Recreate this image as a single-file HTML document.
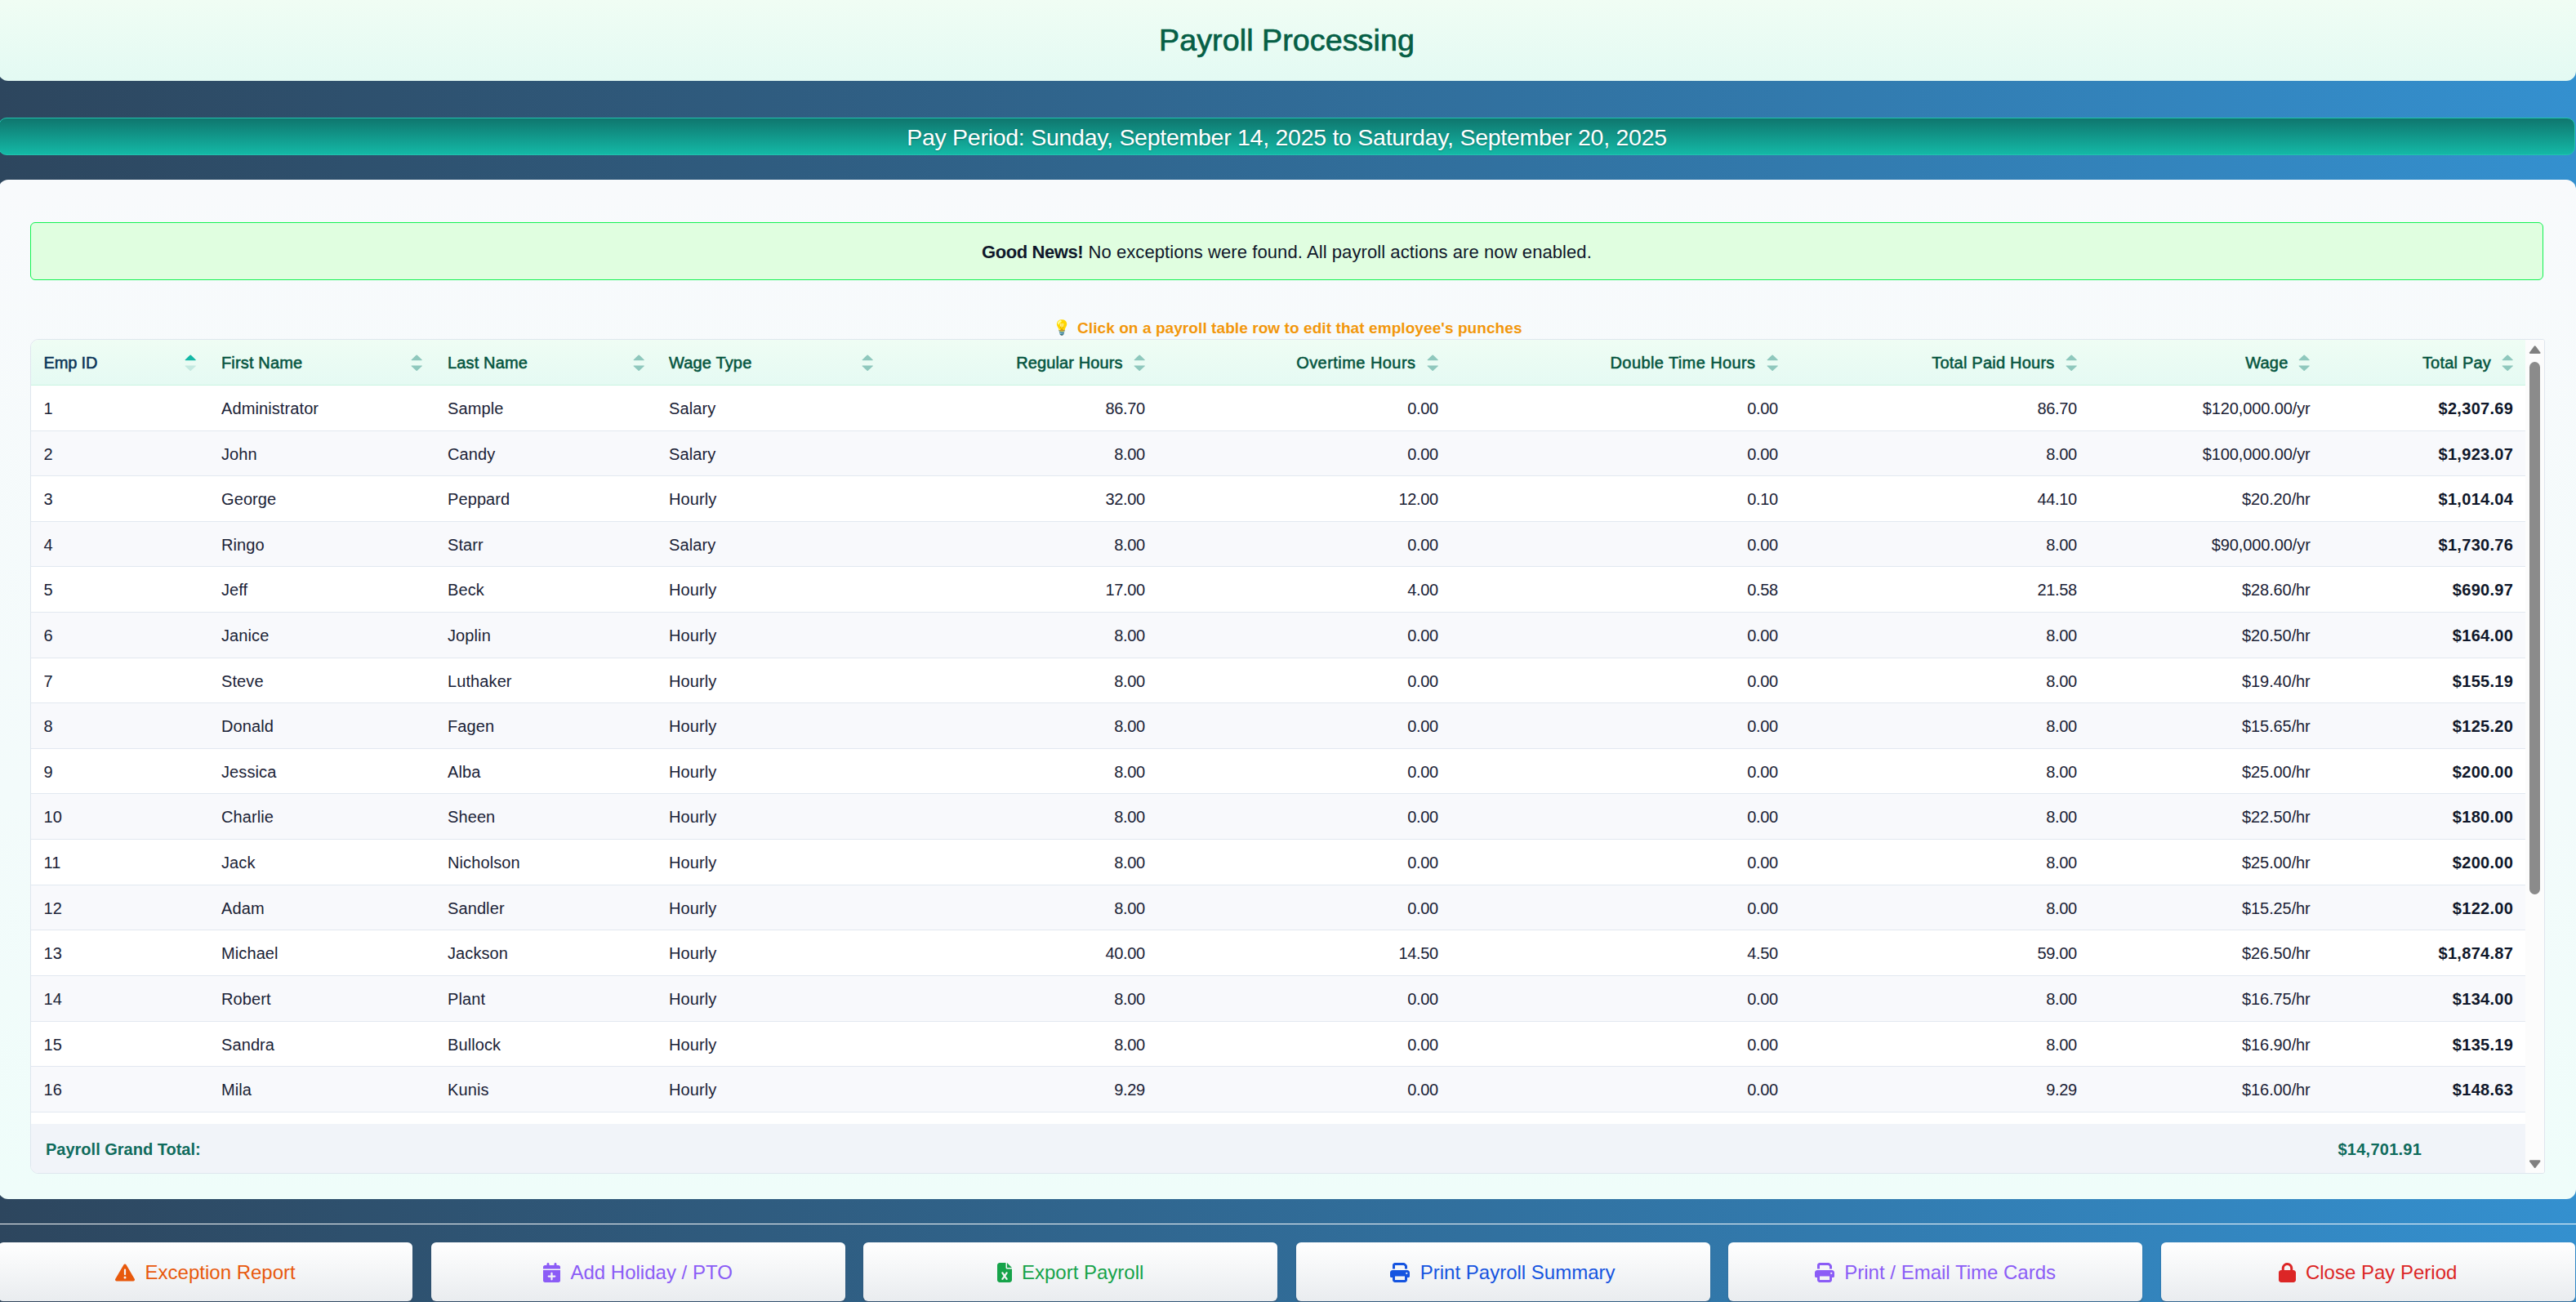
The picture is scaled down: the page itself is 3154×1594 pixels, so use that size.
<!DOCTYPE html>
<html lang="en"><head><meta charset="utf-8"><title>Payroll Processing</title>
<style>
*{box-sizing:border-box}
html,body{margin:0;padding:0}
body{width:3154px;height:1594px;overflow:hidden;position:relative;font-family:"Liberation Sans",Arial,sans-serif;
 background:linear-gradient(90deg,#2d465e 0%,#3490cf 100%);color:#1e293b}
.abs{position:absolute}
#hdr{left:-2px;top:0;width:3155.5px;height:99px;border-radius:0 0 12px 12px;background:linear-gradient(180deg,#f0fdf4 0%,#e3faf3 100%)}
#title{left:0;width:3151px;top:23.8px;text-align:center;font-size:37.6px;line-height:50px;color:#065f46;-webkit-text-stroke:0.7px #065f46;letter-spacing:0.09px;white-space:nowrap}
#pp{left:-2px;top:144px;width:3155px;height:46px;border-radius:10px;border:1px solid #22c3ae;background:linear-gradient(180deg,#0f766e 0%,#14b8a6 100%);
 color:#fff;text-align:center;font-size:28.5px;line-height:46.2px;letter-spacing:-0.27px;white-space:nowrap;text-shadow:0 1px 2px rgba(0,0,0,.25)}
#panel{left:-2px;top:219.5px;width:3155.5px;height:1248px;border-radius:12px;background:linear-gradient(180deg,#f8fafc 0%,#f3fbfb 60%,#effdfa 100%)}
#alert{left:37px;top:272px;width:3077px;height:71px;border:1px solid #12f252;border-radius:6px;background:#e0fee0;color:#0f172a;
 text-align:center;font-size:22px;line-height:71.3px;white-space:nowrap;letter-spacing:.08px}
#alert b{letter-spacing:-.42px}
#tip{left:0;width:3155px;top:389.5px;display:flex;justify-content:center;align-items:flex-start;font-size:19px;font-weight:bold;color:#f2970c;line-height:24px;white-space:nowrap;letter-spacing:.08px}
#tip .em{display:inline-block;width:13px;height:24px;margin-right:14.6px;font-size:17.8px;font-weight:normal;letter-spacing:0;line-height:24px;position:relative;top:-.6px;left:-2px}
#tbl{left:37px;top:415px;width:3079px;height:1022px;border:1px solid #dfe6ee;border-radius:10px 3px 3px 10px;background:#fff;overflow:hidden}
#thead{left:0;top:0;width:3054px;height:56px;background:linear-gradient(180deg,#effdf4 0%,#e5faf3 100%);border-bottom:1px solid #c9f3e0}
.th{position:absolute;top:.5px;height:55px;line-height:55px;font-size:20px;color:#05553f;-webkit-text-stroke:0.55px #05553f;white-space:nowrap;letter-spacing:.45px}
.th.r{text-align:right}
.th.srt{color:#0b3558;-webkit-text-stroke-color:#0b3558}
.si{position:absolute;top:17.9px}
.row{position:absolute;left:0;width:3054px;border-bottom:1px solid #e2e8f0;background:#fff}
.row.alt{background:#f8f9fc}
.c{position:absolute;top:1.2px;font-size:20px;color:#1a2236;white-space:nowrap}
.c.r{text-align:right;letter-spacing:-.35px}
.c.w{letter-spacing:-.1px}
.c.l{letter-spacing:.1px}
.c.b{font-weight:bold;color:#0f172a;letter-spacing:.3px}
#foot{left:0;top:960px;width:3054px;height:60px;background:#f1f4f9}
#foot div{position:absolute;font-weight:bold;font-size:20px;color:#0f6b5c;line-height:24px;white-space:nowrap}
#sb{left:3054px;top:0;width:23px;height:1020px;background:#fcfcfc}
#thumb{left:5px;top:27px;width:12.9px;height:652px;border-radius:6.5px;background:#8b8b8b}
#line{left:0;top:1498px;width:3154px;height:1px;background:rgba(255,255,255,.96)}
.btn{position:absolute;top:1521px;height:71.6px;width:507px;border-radius:6px;background:linear-gradient(180deg,#ffffff 0%,#e9ecef 100%);box-shadow:0 1.5px 1.5px rgba(60,70,90,.45);
 display:flex;align-items:center;justify-content:center;font-size:24px;white-space:nowrap}
.btn svg{margin-right:12.3px;flex:none;position:relative;top:1.2px}
.btn span{position:relative;top:1.3px}
</style></head><body>
<div id="hdr" class="abs"></div>
<div id="title" class="abs">Payroll Processing</div>
<div id="pp" class="abs">Pay Period: Sunday, September 14, 2025 to Saturday, September 20, 2025</div>
<div id="panel" class="abs"></div>
<div id="alert" class="abs"><b>Good News!</b> No exceptions were found. All payroll actions are now enabled.</div>
<div id="tip" class="abs"><span class="em">💡</span><span>Click on a payroll table row to edit that employee's punches</span></div>
<div id="tbl" class="abs">
<div id="thead" class="abs">
<div class="th srt" style="left:15.5px;letter-spacing:-0.15px">Emp ID</div><svg class="si" style="left:188.2px" width="14.4" height="20.6" viewBox="0 0 14 20"><path d="M6.4 0.7 Q7 0.1 7.6 0.7 L13.4 6.2 Q13.8 7 12.9 7 L1.1 7 Q0.2 7 0.6 6.2 Z" fill="#14b8a6"/><path d="M6.4 19.3 Q7 19.9 7.6 19.3 L13.4 13.8 Q13.8 13 12.9 13 L1.1 13 Q0.2 13 0.6 13.8 Z" fill="#c4e9e0"/></svg>
<div class="th" style="left:233.0px;letter-spacing:0.15px">First Name</div><svg class="si" style="left:465.3px" width="14.4" height="20.6" viewBox="0 0 14 20"><path d="M6.4 0.7 Q7 0.1 7.6 0.7 L13.4 6.2 Q13.8 7 12.9 7 L1.1 7 Q0.2 7 0.6 6.2 Z" fill="#8fc8bd"/><path d="M6.4 19.3 Q7 19.9 7.6 19.3 L13.4 13.8 Q13.8 13 12.9 13 L1.1 13 Q0.2 13 0.6 13.8 Z" fill="#8fc8bd"/></svg>
<div class="th" style="left:510.0px;letter-spacing:0.15px">Last Name</div><svg class="si" style="left:737.3px" width="14.4" height="20.6" viewBox="0 0 14 20"><path d="M6.4 0.7 Q7 0.1 7.6 0.7 L13.4 6.2 Q13.8 7 12.9 7 L1.1 7 Q0.2 7 0.6 6.2 Z" fill="#8fc8bd"/><path d="M6.4 19.3 Q7 19.9 7.6 19.3 L13.4 13.8 Q13.8 13 12.9 13 L1.1 13 Q0.2 13 0.6 13.8 Z" fill="#8fc8bd"/></svg>
<div class="th" style="left:781.0px;letter-spacing:0.15px">Wage Type</div><svg class="si" style="left:1016.5px" width="14.4" height="20.6" viewBox="0 0 14 20"><path d="M6.4 0.7 Q7 0.1 7.6 0.7 L13.4 6.2 Q13.8 7 12.9 7 L1.1 7 Q0.2 7 0.6 6.2 Z" fill="#8fc8bd"/><path d="M6.4 19.3 Q7 19.9 7.6 19.3 L13.4 13.8 Q13.8 13 12.9 13 L1.1 13 Q0.2 13 0.6 13.8 Z" fill="#8fc8bd"/></svg>
<div class="th r" style="left:1046.0px;width:290.5px;letter-spacing:0.1px">Regular Hours</div><svg class="si" style="left:1350.0px" width="14.4" height="20.6" viewBox="0 0 14 20"><path d="M6.4 0.7 Q7 0.1 7.6 0.7 L13.4 6.2 Q13.8 7 12.9 7 L1.1 7 Q0.2 7 0.6 6.2 Z" fill="#8fc8bd"/><path d="M6.4 19.3 Q7 19.9 7.6 19.3 L13.4 13.8 Q13.8 13 12.9 13 L1.1 13 Q0.2 13 0.6 13.8 Z" fill="#8fc8bd"/></svg>
<div class="th r" style="left:1378.0px;width:317.5px;letter-spacing:0.45px">Overtime Hours</div><svg class="si" style="left:1708.6px" width="14.4" height="20.6" viewBox="0 0 14 20"><path d="M6.4 0.7 Q7 0.1 7.6 0.7 L13.4 6.2 Q13.8 7 12.9 7 L1.1 7 Q0.2 7 0.6 6.2 Z" fill="#8fc8bd"/><path d="M6.4 19.3 Q7 19.9 7.6 19.3 L13.4 13.8 Q13.8 13 12.9 13 L1.1 13 Q0.2 13 0.6 13.8 Z" fill="#8fc8bd"/></svg>
<div class="th r" style="left:1737.0px;width:374.5px;letter-spacing:0.4px">Double Time Hours</div><svg class="si" style="left:2124.5px" width="14.4" height="20.6" viewBox="0 0 14 20"><path d="M6.4 0.7 Q7 0.1 7.6 0.7 L13.4 6.2 Q13.8 7 12.9 7 L1.1 7 Q0.2 7 0.6 6.2 Z" fill="#8fc8bd"/><path d="M6.4 19.3 Q7 19.9 7.6 19.3 L13.4 13.8 Q13.8 13 12.9 13 L1.1 13 Q0.2 13 0.6 13.8 Z" fill="#8fc8bd"/></svg>
<div class="th r" style="left:2153.0px;width:324.5px;letter-spacing:0.22px">Total Paid Hours</div><svg class="si" style="left:2490.5px" width="14.4" height="20.6" viewBox="0 0 14 20"><path d="M6.4 0.7 Q7 0.1 7.6 0.7 L13.4 6.2 Q13.8 7 12.9 7 L1.1 7 Q0.2 7 0.6 6.2 Z" fill="#8fc8bd"/><path d="M6.4 19.3 Q7 19.9 7.6 19.3 L13.4 13.8 Q13.8 13 12.9 13 L1.1 13 Q0.2 13 0.6 13.8 Z" fill="#8fc8bd"/></svg>
<div class="th r" style="left:2519.0px;width:244.5px;letter-spacing:0.2px">Wage</div><svg class="si" style="left:2776.0px" width="14.4" height="20.6" viewBox="0 0 14 20"><path d="M6.4 0.7 Q7 0.1 7.6 0.7 L13.4 6.2 Q13.8 7 12.9 7 L1.1 7 Q0.2 7 0.6 6.2 Z" fill="#8fc8bd"/><path d="M6.4 19.3 Q7 19.9 7.6 19.3 L13.4 13.8 Q13.8 13 12.9 13 L1.1 13 Q0.2 13 0.6 13.8 Z" fill="#8fc8bd"/></svg>
<div class="th r" style="left:2805.0px;width:207.0px;letter-spacing:0.2px">Total Pay</div><svg class="si" style="left:3024.7px" width="14.4" height="20.6" viewBox="0 0 14 20"><path d="M6.4 0.7 Q7 0.1 7.6 0.7 L13.4 6.2 Q13.8 7 12.9 7 L1.1 7 Q0.2 7 0.6 6.2 Z" fill="#8fc8bd"/><path d="M6.4 19.3 Q7 19.9 7.6 19.3 L13.4 13.8 Q13.8 13 12.9 13 L1.1 13 Q0.2 13 0.6 13.8 Z" fill="#8fc8bd"/></svg>
</div>
<div class="row" style="top:56px;height:56px"><div class="c l" style="left:15.5px;line-height:55px">1</div><div class="c l" style="left:233.0px;line-height:55px">Administrator</div><div class="c l" style="left:510.0px;line-height:55px">Sample</div><div class="c l" style="left:781.0px;line-height:55px">Salary</div><div class="c r" style="left:1046.0px;width:317.7px;line-height:55px">86.70</div><div class="c r" style="left:1378.0px;width:344.7px;line-height:55px">0.00</div><div class="c r" style="left:1737.0px;width:401.7px;line-height:55px">0.00</div><div class="c r" style="left:2153.0px;width:351.7px;line-height:55px">86.70</div><div class="c r w" style="left:2519.0px;width:271.7px;line-height:55px">$120,000.00/yr</div><div class="c r b" style="left:2805.0px;width:234.2px;line-height:55px">$2,307.69</div></div>
<div class="row alt" style="top:112px;height:55px"><div class="c l" style="left:15.5px;line-height:54px">2</div><div class="c l" style="left:233.0px;line-height:54px">John</div><div class="c l" style="left:510.0px;line-height:54px">Candy</div><div class="c l" style="left:781.0px;line-height:54px">Salary</div><div class="c r" style="left:1046.0px;width:317.7px;line-height:54px">8.00</div><div class="c r" style="left:1378.0px;width:344.7px;line-height:54px">0.00</div><div class="c r" style="left:1737.0px;width:401.7px;line-height:54px">0.00</div><div class="c r" style="left:2153.0px;width:351.7px;line-height:54px">8.00</div><div class="c r w" style="left:2519.0px;width:271.7px;line-height:54px">$100,000.00/yr</div><div class="c r b" style="left:2805.0px;width:234.2px;line-height:54px">$1,923.07</div></div>
<div class="row" style="top:167px;height:56px"><div class="c l" style="left:15.5px;line-height:55px">3</div><div class="c l" style="left:233.0px;line-height:55px">George</div><div class="c l" style="left:510.0px;line-height:55px">Peppard</div><div class="c l" style="left:781.0px;line-height:55px">Hourly</div><div class="c r" style="left:1046.0px;width:317.7px;line-height:55px">32.00</div><div class="c r" style="left:1378.0px;width:344.7px;line-height:55px">12.00</div><div class="c r" style="left:1737.0px;width:401.7px;line-height:55px">0.10</div><div class="c r" style="left:2153.0px;width:351.7px;line-height:55px">44.10</div><div class="c r w" style="left:2519.0px;width:271.7px;line-height:55px">$20.20/hr</div><div class="c r b" style="left:2805.0px;width:234.2px;line-height:55px">$1,014.04</div></div>
<div class="row alt" style="top:223px;height:55px"><div class="c l" style="left:15.5px;line-height:54px">4</div><div class="c l" style="left:233.0px;line-height:54px">Ringo</div><div class="c l" style="left:510.0px;line-height:54px">Starr</div><div class="c l" style="left:781.0px;line-height:54px">Salary</div><div class="c r" style="left:1046.0px;width:317.7px;line-height:54px">8.00</div><div class="c r" style="left:1378.0px;width:344.7px;line-height:54px">0.00</div><div class="c r" style="left:1737.0px;width:401.7px;line-height:54px">0.00</div><div class="c r" style="left:2153.0px;width:351.7px;line-height:54px">8.00</div><div class="c r w" style="left:2519.0px;width:271.7px;line-height:54px">$90,000.00/yr</div><div class="c r b" style="left:2805.0px;width:234.2px;line-height:54px">$1,730.76</div></div>
<div class="row" style="top:278px;height:56px"><div class="c l" style="left:15.5px;line-height:55px">5</div><div class="c l" style="left:233.0px;line-height:55px">Jeff</div><div class="c l" style="left:510.0px;line-height:55px">Beck</div><div class="c l" style="left:781.0px;line-height:55px">Hourly</div><div class="c r" style="left:1046.0px;width:317.7px;line-height:55px">17.00</div><div class="c r" style="left:1378.0px;width:344.7px;line-height:55px">4.00</div><div class="c r" style="left:1737.0px;width:401.7px;line-height:55px">0.58</div><div class="c r" style="left:2153.0px;width:351.7px;line-height:55px">21.58</div><div class="c r w" style="left:2519.0px;width:271.7px;line-height:55px">$28.60/hr</div><div class="c r b" style="left:2805.0px;width:234.2px;line-height:55px">$690.97</div></div>
<div class="row alt" style="top:334px;height:56px"><div class="c l" style="left:15.5px;line-height:55px">6</div><div class="c l" style="left:233.0px;line-height:55px">Janice</div><div class="c l" style="left:510.0px;line-height:55px">Joplin</div><div class="c l" style="left:781.0px;line-height:55px">Hourly</div><div class="c r" style="left:1046.0px;width:317.7px;line-height:55px">8.00</div><div class="c r" style="left:1378.0px;width:344.7px;line-height:55px">0.00</div><div class="c r" style="left:1737.0px;width:401.7px;line-height:55px">0.00</div><div class="c r" style="left:2153.0px;width:351.7px;line-height:55px">8.00</div><div class="c r w" style="left:2519.0px;width:271.7px;line-height:55px">$20.50/hr</div><div class="c r b" style="left:2805.0px;width:234.2px;line-height:55px">$164.00</div></div>
<div class="row" style="top:390px;height:55px"><div class="c l" style="left:15.5px;line-height:54px">7</div><div class="c l" style="left:233.0px;line-height:54px">Steve</div><div class="c l" style="left:510.0px;line-height:54px">Luthaker</div><div class="c l" style="left:781.0px;line-height:54px">Hourly</div><div class="c r" style="left:1046.0px;width:317.7px;line-height:54px">8.00</div><div class="c r" style="left:1378.0px;width:344.7px;line-height:54px">0.00</div><div class="c r" style="left:1737.0px;width:401.7px;line-height:54px">0.00</div><div class="c r" style="left:2153.0px;width:351.7px;line-height:54px">8.00</div><div class="c r w" style="left:2519.0px;width:271.7px;line-height:54px">$19.40/hr</div><div class="c r b" style="left:2805.0px;width:234.2px;line-height:54px">$155.19</div></div>
<div class="row alt" style="top:445px;height:56px"><div class="c l" style="left:15.5px;line-height:55px">8</div><div class="c l" style="left:233.0px;line-height:55px">Donald</div><div class="c l" style="left:510.0px;line-height:55px">Fagen</div><div class="c l" style="left:781.0px;line-height:55px">Hourly</div><div class="c r" style="left:1046.0px;width:317.7px;line-height:55px">8.00</div><div class="c r" style="left:1378.0px;width:344.7px;line-height:55px">0.00</div><div class="c r" style="left:1737.0px;width:401.7px;line-height:55px">0.00</div><div class="c r" style="left:2153.0px;width:351.7px;line-height:55px">8.00</div><div class="c r w" style="left:2519.0px;width:271.7px;line-height:55px">$15.65/hr</div><div class="c r b" style="left:2805.0px;width:234.2px;line-height:55px">$125.20</div></div>
<div class="row" style="top:501px;height:55px"><div class="c l" style="left:15.5px;line-height:54px">9</div><div class="c l" style="left:233.0px;line-height:54px">Jessica</div><div class="c l" style="left:510.0px;line-height:54px">Alba</div><div class="c l" style="left:781.0px;line-height:54px">Hourly</div><div class="c r" style="left:1046.0px;width:317.7px;line-height:54px">8.00</div><div class="c r" style="left:1378.0px;width:344.7px;line-height:54px">0.00</div><div class="c r" style="left:1737.0px;width:401.7px;line-height:54px">0.00</div><div class="c r" style="left:2153.0px;width:351.7px;line-height:54px">8.00</div><div class="c r w" style="left:2519.0px;width:271.7px;line-height:54px">$25.00/hr</div><div class="c r b" style="left:2805.0px;width:234.2px;line-height:54px">$200.00</div></div>
<div class="row alt" style="top:556px;height:56px"><div class="c l" style="left:15.5px;line-height:55px">10</div><div class="c l" style="left:233.0px;line-height:55px">Charlie</div><div class="c l" style="left:510.0px;line-height:55px">Sheen</div><div class="c l" style="left:781.0px;line-height:55px">Hourly</div><div class="c r" style="left:1046.0px;width:317.7px;line-height:55px">8.00</div><div class="c r" style="left:1378.0px;width:344.7px;line-height:55px">0.00</div><div class="c r" style="left:1737.0px;width:401.7px;line-height:55px">0.00</div><div class="c r" style="left:2153.0px;width:351.7px;line-height:55px">8.00</div><div class="c r w" style="left:2519.0px;width:271.7px;line-height:55px">$22.50/hr</div><div class="c r b" style="left:2805.0px;width:234.2px;line-height:55px">$180.00</div></div>
<div class="row" style="top:612px;height:56px"><div class="c l" style="left:15.5px;line-height:55px">11</div><div class="c l" style="left:233.0px;line-height:55px">Jack</div><div class="c l" style="left:510.0px;line-height:55px">Nicholson</div><div class="c l" style="left:781.0px;line-height:55px">Hourly</div><div class="c r" style="left:1046.0px;width:317.7px;line-height:55px">8.00</div><div class="c r" style="left:1378.0px;width:344.7px;line-height:55px">0.00</div><div class="c r" style="left:1737.0px;width:401.7px;line-height:55px">0.00</div><div class="c r" style="left:2153.0px;width:351.7px;line-height:55px">8.00</div><div class="c r w" style="left:2519.0px;width:271.7px;line-height:55px">$25.00/hr</div><div class="c r b" style="left:2805.0px;width:234.2px;line-height:55px">$200.00</div></div>
<div class="row alt" style="top:668px;height:55px"><div class="c l" style="left:15.5px;line-height:54px">12</div><div class="c l" style="left:233.0px;line-height:54px">Adam</div><div class="c l" style="left:510.0px;line-height:54px">Sandler</div><div class="c l" style="left:781.0px;line-height:54px">Hourly</div><div class="c r" style="left:1046.0px;width:317.7px;line-height:54px">8.00</div><div class="c r" style="left:1378.0px;width:344.7px;line-height:54px">0.00</div><div class="c r" style="left:1737.0px;width:401.7px;line-height:54px">0.00</div><div class="c r" style="left:2153.0px;width:351.7px;line-height:54px">8.00</div><div class="c r w" style="left:2519.0px;width:271.7px;line-height:54px">$15.25/hr</div><div class="c r b" style="left:2805.0px;width:234.2px;line-height:54px">$122.00</div></div>
<div class="row" style="top:723px;height:56px"><div class="c l" style="left:15.5px;line-height:55px">13</div><div class="c l" style="left:233.0px;line-height:55px">Michael</div><div class="c l" style="left:510.0px;line-height:55px">Jackson</div><div class="c l" style="left:781.0px;line-height:55px">Hourly</div><div class="c r" style="left:1046.0px;width:317.7px;line-height:55px">40.00</div><div class="c r" style="left:1378.0px;width:344.7px;line-height:55px">14.50</div><div class="c r" style="left:1737.0px;width:401.7px;line-height:55px">4.50</div><div class="c r" style="left:2153.0px;width:351.7px;line-height:55px">59.00</div><div class="c r w" style="left:2519.0px;width:271.7px;line-height:55px">$26.50/hr</div><div class="c r b" style="left:2805.0px;width:234.2px;line-height:55px">$1,874.87</div></div>
<div class="row alt" style="top:779px;height:56px"><div class="c l" style="left:15.5px;line-height:55px">14</div><div class="c l" style="left:233.0px;line-height:55px">Robert</div><div class="c l" style="left:510.0px;line-height:55px">Plant</div><div class="c l" style="left:781.0px;line-height:55px">Hourly</div><div class="c r" style="left:1046.0px;width:317.7px;line-height:55px">8.00</div><div class="c r" style="left:1378.0px;width:344.7px;line-height:55px">0.00</div><div class="c r" style="left:1737.0px;width:401.7px;line-height:55px">0.00</div><div class="c r" style="left:2153.0px;width:351.7px;line-height:55px">8.00</div><div class="c r w" style="left:2519.0px;width:271.7px;line-height:55px">$16.75/hr</div><div class="c r b" style="left:2805.0px;width:234.2px;line-height:55px">$134.00</div></div>
<div class="row" style="top:835px;height:55px"><div class="c l" style="left:15.5px;line-height:54px">15</div><div class="c l" style="left:233.0px;line-height:54px">Sandra</div><div class="c l" style="left:510.0px;line-height:54px">Bullock</div><div class="c l" style="left:781.0px;line-height:54px">Hourly</div><div class="c r" style="left:1046.0px;width:317.7px;line-height:54px">8.00</div><div class="c r" style="left:1378.0px;width:344.7px;line-height:54px">0.00</div><div class="c r" style="left:1737.0px;width:401.7px;line-height:54px">0.00</div><div class="c r" style="left:2153.0px;width:351.7px;line-height:54px">8.00</div><div class="c r w" style="left:2519.0px;width:271.7px;line-height:54px">$16.90/hr</div><div class="c r b" style="left:2805.0px;width:234.2px;line-height:54px">$135.19</div></div>
<div class="row alt" style="top:890px;height:56px"><div class="c l" style="left:15.5px;line-height:55px">16</div><div class="c l" style="left:233.0px;line-height:55px">Mila</div><div class="c l" style="left:510.0px;line-height:55px">Kunis</div><div class="c l" style="left:781.0px;line-height:55px">Hourly</div><div class="c r" style="left:1046.0px;width:317.7px;line-height:55px">9.29</div><div class="c r" style="left:1378.0px;width:344.7px;line-height:55px">0.00</div><div class="c r" style="left:1737.0px;width:401.7px;line-height:55px">0.00</div><div class="c r" style="left:2153.0px;width:351.7px;line-height:55px">9.29</div><div class="c r w" style="left:2519.0px;width:271.7px;line-height:55px">$16.00/hr</div><div class="c r b" style="left:2805.0px;width:234.2px;line-height:55px">$148.63</div></div>
<div id="foot" class="abs"><div style="left:18px;top:19px">Payroll Grand Total:</div><div style="left:2824.5px;top:19.3px;letter-spacing:.25px">$14,701.91</div></div>
<div id="sb" class="abs"><svg class="abs" style="left:3.6px;top:5.6px" width="15.4" height="12.4" viewBox="0 0 15 11"><path d="M6.6 1.2 Q7.5 0.2 8.4 1.2 L14 8.6 Q14.6 10.2 13 10.2 L2 10.2 Q0.4 10.2 1 8.6 Z" fill="#808080"/></svg><div id="thumb" class="abs"></div><svg class="abs" style="left:3.6px;top:1002.6px" width="15.4" height="12.4" viewBox="0 0 15 11"><path d="M6.6 9.8 Q7.5 10.8 8.4 9.8 L14 2.4 Q14.6 0.8 13 0.8 L2 0.8 Q0.4 0.8 1 2.4 Z" fill="#808080"/></svg></div>
</div>
<div id="line" class="abs"></div>
<div class="btn" style="left:-2.0px;color:#e8590c"><svg width="24" height="24" viewBox="0 0 512 512"><path fill="currentColor" d="M256 32c14.2 0 27.300 7.500 34.500 19.800l216 368c7.300 12.400 7.300 27.700 .2 40.100S486.300 480 472 480H40c-14.300 0-27.600-7.700-34.700-20.100s-7-27.800 .2-40.100l216-368C228.700 39.500 241.800 32 256 32zm0 128c-13.300 0-24 10.700-24 24V296c0 13.300 10.700 24 24 24s24-10.700 24-24V184c0-13.300-10.700-24-24-24zm32 224a32 32 0 1 0 -64 0 32 32 0 1 0 64 0z"/></svg><span>Exception Report</span></div>
<div class="btn" style="left:527.5px;color:#8b5cf6"><svg width="21" height="24" viewBox="0 0 448 512"><path fill="currentColor" d="M96 32V64H48C21.500 64 0 85.500 0 112v48H448V112c0-26.500-21.500-48-48-48H352V32c0-17.700-14.300-32-32-32s-32 14.300-32 32V64H160V32c0-17.700-14.300-32-32-32S96 14.300 96 32zM448 192H0V464c0 26.500 21.500 48 48 48H400c26.500 0 48-21.500 48-48V192zM224 248c13.300 0 24 10.700 24 24v56h56c13.300 0 24 10.700 24 24s-10.700 24-24 24H248v56c0 13.300-10.700 24-24 24s-24-10.700-24-24V376H144c-13.300 0-24-10.700-24-24s10.700-24 24-24h56V272c0-13.300 10.700-24 24-24z"/></svg><span>Add Holiday / PTO</span></div>
<div class="btn" style="left:1057.0px;color:#16a34a"><svg width="18" height="24" viewBox="0 0 384 512"><path fill="currentColor" d="M64 0C28.700 0 0 28.700 0 64V448c0 35.300 28.700 64 64 64H320c35.300 0 64-28.700 64-64V160H256c-17.700 0-32-14.300-32-32V0H64zM256 0V128H384L256 0zM155.700 250.200L192 302.100l36.300-51.900c7.600-10.900 22.600-13.500 33.400-5.900s13.500 22.600 5.900 33.400L221.300 344l46.400 66.200c7.600 10.900 5 25.800-5.900 33.400s-25.800 5-33.400-5.900L192 385.800l-36.300 51.900c-7.600 10.900-22.600 13.500-33.400 5.900s-13.500-22.600-5.900-33.400L162.700 344l-46.400-66.200c-7.600-10.900-5-25.800 5.900-33.400s25.800-5 33.400 5.900z"/></svg><span>Export Payroll</span></div>
<div class="btn" style="left:1586.5px;color:#1554e0"><svg width="24" height="24" viewBox="0 0 512 512"><path fill="currentColor" d="M128 0C92.700 0 64 28.700 64 64v96h64V64H354.700L384 93.300V160h64V93.300c0-17-6.700-33.300-18.700-45.300L400 18.700C388 6.700 371.700 0 354.700 0H128zM384 352v32 64H128V384 368 352H384zm64 32h32c17.700 0 32-14.300 32-32V256c0-35.300-28.700-64-64-64H64c-35.300 0-64 28.700-64 64v96c0 17.700 14.300 32 32 32H64v64c0 35.300 28.700 64 64 64H384c35.300 0 64-28.700 64-64V384zM432 248a24 24 0 1 1 0 48 24 24 0 1 1 0-48z"/></svg><span>Print Payroll Summary</span></div>
<div class="btn" style="left:2116.0px;color:#8b5cf6"><svg width="24" height="24" viewBox="0 0 512 512"><path fill="currentColor" d="M128 0C92.700 0 64 28.700 64 64v96h64V64H354.700L384 93.300V160h64V93.300c0-17-6.700-33.300-18.700-45.300L400 18.700C388 6.700 371.700 0 354.700 0H128zM384 352v32 64H128V384 368 352H384zm64 32h32c17.700 0 32-14.300 32-32V256c0-35.300-28.700-64-64-64H64c-35.300 0-64 28.700-64 64v96c0 17.700 14.300 32 32 32H64v64c0 35.300 28.700 64 64 64H384c35.300 0 64-28.700 64-64V384zM432 248a24 24 0 1 1 0 48 24 24 0 1 1 0-48z"/></svg><span>Print / Email Time Cards</span></div>
<div class="btn" style="left:2645.5px;color:#dc2626"><svg width="21" height="24" viewBox="0 0 448 512"><path fill="currentColor" d="M144 144v48H304V144c0-44.200-35.800-80-80-80s-80 35.800-80 80zM80 192V144C80 64.500 144.500 0 224 0s144 64.500 144 144v48h16c35.300 0 64 28.700 64 64V448c0 35.300-28.700 64-64 64H64c-35.300 0-64-28.700-64-64V256c0-35.300 28.700-64 64-64H80z"/></svg><span>Close Pay Period</span></div>
</body></html>
